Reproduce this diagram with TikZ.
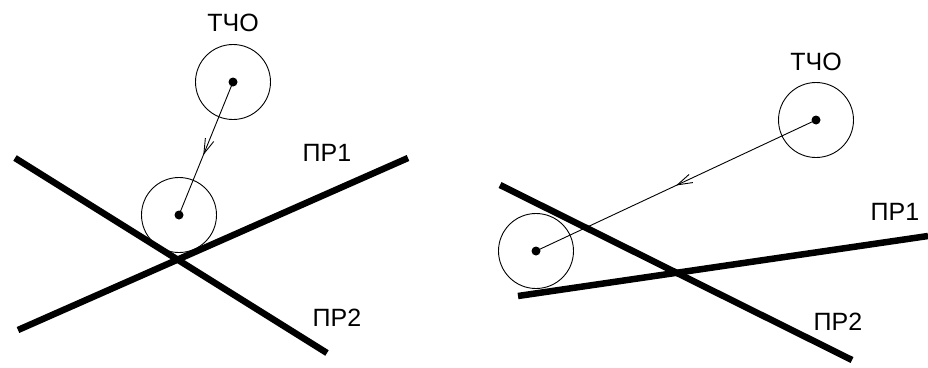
\documentclass[tikz,border=0pt]{standalone}
\usepackage{fontspec}
\setmainfont{Liberation Sans}
\usetikzlibrary{arrows.meta, decorations.markings}
\tikzset{
  krug/.style = {circle, draw=black, line width=0.9pt, minimum size=75pt, inner sep=0pt},
  tochka/.style = {circle, fill=black, minimum size=9pt, inner sep=0pt},
  pr/.style = {draw=black, line width=6.5pt},
  vek/.style = {draw=black, line width=0.9pt, postaction={decorate},
    decoration={markings, mark=at position #1 with {\arrow{Straight Barb[length=15pt, width=9pt]}}}},
  nad/.style = {font=\fontsize{25}{28}\selectfont, inner sep=0pt}
}
\begin{document}
\begin{tikzpicture}[x=1pt, y=-1pt]
  \useasboundingbox (0,0) rectangle (928,367);
  % left
  \node [krug] (k1) at (233,82) {};
  \node [krug] (k2) at (179,215) {};
  \node [tochka] (t1) at (k1.center) {};
  \node [tochka] (t2) at (k2.center) {};
  \coordinate (a1) at (18,330);
  \coordinate (b1) at (408,158);
  \coordinate (a2) at (15,158);
  \coordinate (b2) at (327,353);
  \draw [pr] (a1) -- (b1);
  \draw [pr] (a2) -- (b2);
  \draw [vek=0.55] (k1.center) -- (k2.center);
  \node [nad] (n1) at (233,23) {ТЧО};
  \node [nad] (n2) at (327,153) {ПР1};
  \node [nad] (n3) at (337,318) {ПР2};
  % right
  \node [krug] (k3) at (816,120) {};
  \node [krug] (k4) at (536,251) {};
  \node [tochka] (t3) at (k3.center) {};
  \node [tochka] (t4) at (k4.center) {};
  \coordinate (c1) at (518,296);
  \coordinate (d1) at (928,236);
  \coordinate (c2) at (500,185);
  \coordinate (d2) at (852,360);
  \draw [pr] (c1) -- (d1);
  \draw [pr] (c2) -- (d2);
  \draw [vek=0.5] (k3.center) -- (k4.center);
  \node [nad] (n4) at (816,62) {ТЧО};
  \node [nad] (n5) at (895,212) {ПР1};
  \node [nad] (n6) at (838,322) {ПР2};
\end{tikzpicture}
\end{document}
